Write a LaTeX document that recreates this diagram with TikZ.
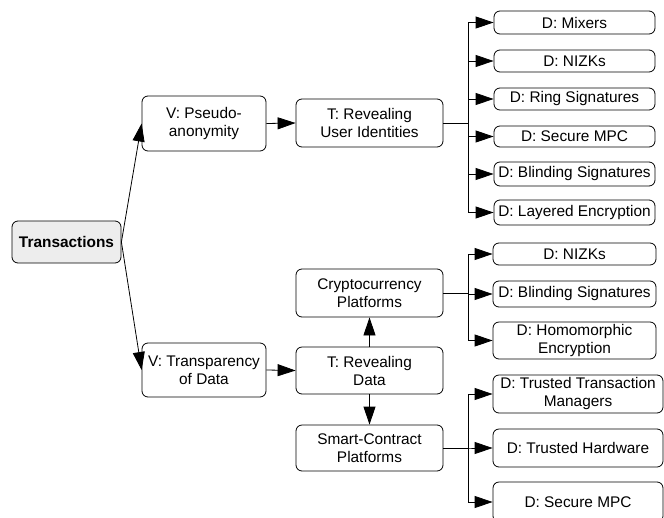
\documentclass[tikz,border=0pt]{standalone}
\usepackage{fontspec}
\setmainfont{Liberation Sans}
\usetikzlibrary{arrows.meta}
\definecolor{tgray}{HTML}{EDEDED}
\begin{document}
\begin{tikzpicture}[x=1pt,y=-1pt,
  box/.style={draw, rounded corners=6pt, line width=0.8pt, align=center, inner sep=0pt,
    font=\fontsize{15.4}{18}\selectfont},
  arr/.style={-{Triangle[length=18pt,width=12pt]}, line width=0.8pt},
  bus/.style={arr, rounded corners=0pt}]
\useasboundingbox (0,0) rectangle (664,517);
\node[box, fill=tgray, minimum width=109pt, minimum height=42pt, font=\fontsize{15.4}{18}\selectfont\bfseries] (trans) at (66.5,242) {Transactions};
\node[box, minimum width=124pt, minimum height=55pt] (vp) at (204,123.5) {V: Pseudo-\\anonymity};
\node[box, minimum width=147pt, minimum height=48pt] (tu) at (369.5,123) {T: Revealing\\User Identities};
\node[box, minimum width=161pt, minimum height=23pt] (mix) at (574.5,22.5) {D: Mixers};
\node[box, minimum width=161pt, minimum height=22pt] (niz) at (574.5,61) {D: NIZKs};
\node[box, minimum width=161pt, minimum height=22pt] (ring) at (574.5,99) {D: Ring Signatures};
\node[box, minimum width=161pt, minimum height=21pt] (smpc) at (574.5,136.5) {D: Secure MPC};
\node[box, minimum width=161pt, minimum height=24pt] (blind) at (574.5,174) {D: Blinding Signatures};
\node[box, minimum width=161pt, minimum height=25pt] (layer) at (574.5,212.5) {D: Layered Encryption};
\node[box, minimum width=124pt, minimum height=54pt] (vt) at (204,370) {V: Transparency\\of Data};
\node[box, minimum width=147pt, minimum height=48pt] (cp) at (369.5,293) {Cryptocurrency\\Platforms};
\node[box, minimum width=147pt, minimum height=47pt] (td) at (369.5,370.5) {T: Revealing\\Data};
\node[box, minimum width=147pt, minimum height=46pt] (sp) at (369.5,448) {Smart-Contract\\Platforms};
\node[box, minimum width=163pt, minimum height=22pt] (niz2) at (574.5,254) {D: NIZKs};
\node[box, minimum width=163pt, minimum height=26pt] (blind2) at (574.5,294) {D: Blinding Signatures};
\node[box, minimum width=163pt, minimum height=37pt] (homo) at (574.5,340.5) {D: Homomorphic\\Encryption};
\node[box, minimum width=170pt, minimum height=38pt] (ttm) at (578,394) {D: Trusted Transaction\\Managers};
\node[box, minimum width=170pt, minimum height=38pt] (th) at (578,448) {D: Trusted Hardware};
\node[box, minimum width=170pt, minimum height=40pt] (smpc2) at (578,502) {D: Secure MPC};
\draw[arr] (trans.east) -- (vp.west);
\draw[arr] (trans.east) -- (vt.west);
\draw[arr] (vp.east) -- (tu.west);
\draw[arr] (vt.east) -- (td.west);
\draw[arr] (td.north) -- (cp.south);
\draw[arr] (td.south) -- (sp.north);
\foreach \d in {mix,niz,ring,smpc,blind,layer}
  \draw[bus] (tu.east) -- ++(25,0) |- (\d.west);
\foreach \d in {niz2,blind2,homo}
  \draw[bus] (cp.east) -- ++(25,0) |- (\d.west);
\foreach \d in {ttm,th,smpc2}
  \draw[bus] (sp.east) -- ++(25,0) |- (\d.west);
\end{tikzpicture}
\end{document}
